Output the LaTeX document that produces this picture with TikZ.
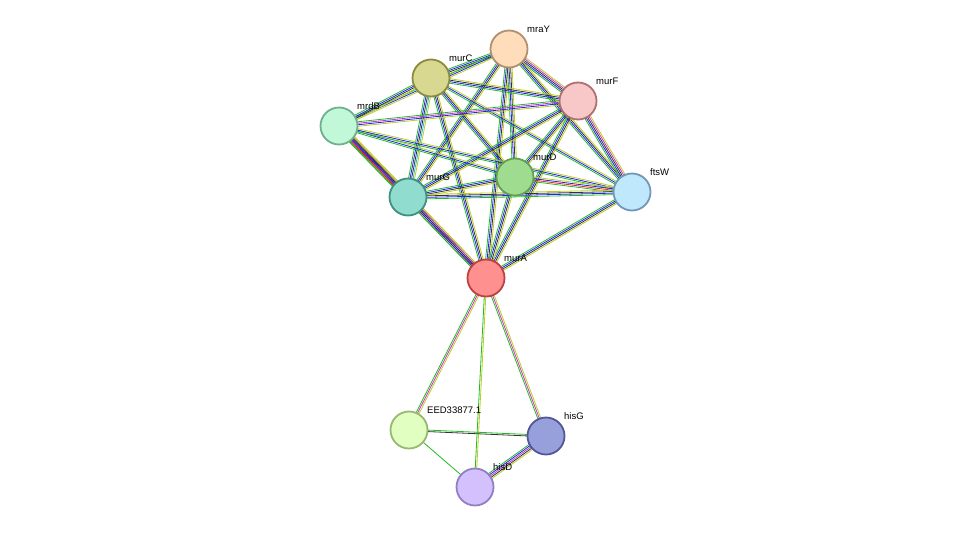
\documentclass[tikz,border=0pt]{standalone}
\usepackage{fontspec}
\setmainfont{Liberation Sans}
\usetikzlibrary{calc}
\definecolor{sg}{HTML}{22BB22}
\definecolor{sb}{HTML}{2222EE}
\definecolor{sy}{HTML}{BBCC22}
\definecolor{sk}{HTML}{333333}
\definecolor{sm}{HTML}{CC33CC}
\definecolor{sr}{HTML}{EE2222}
\definecolor{sc}{HTML}{22BBCC}
\newcommand\sedge[4]{\foreach \c [count=\i] in #4{\pgfmathsetmacro\o{(\i-(#3+1)/2)*1.5}\draw[\c,line width=0.8pt] ($(#1)!\o pt!90:(#2)$) -- ($(#2)!\o pt!-90:(#1)$);}}
\tikzset{p/.style={circle,minimum size=37pt,inner sep=0pt,line width=1.8pt},
lab/.style={font=\fontsize{9.5}{10}\selectfont,anchor=south west,inner sep=1pt}}
\begin{document}
\begin{tikzpicture}[x=1pt,y=-1pt]
\useasboundingbox (0,0) rectangle (976,533);
\coordinate (mraY) at (509,49);
\coordinate (murC) at (431,78);
\coordinate (murF) at (578,101);
\coordinate (mrdB) at (339,126);
\coordinate (murD) at (515,177);
\coordinate (murG) at (408,197);
\coordinate (ftsW) at (632,192);
\coordinate (murA) at (486,278);
\coordinate (EED) at (409,430);
\coordinate (hisG) at (546,436);
\coordinate (hisD) at (475,487);
\foreach \a/\b/\n/\cs in {
mraY/murC/4/{sg,sb,sk,sy}, mraY/murF/5/{sg,sb,sk,sm,sy}, mraY/mrdB/3/{sg,sb,sy},
mraY/murD/4/{sg,sb,sk,sy}, mraY/murG/4/{sg,sb,sk,sy}, mraY/ftsW/4/{sg,sb,sk,sy},
mraY/murA/4/{sg,sb,sk,sy},
murC/murF/4/{sg,sb,sk,sy}, murC/mrdB/4/{sg,sb,sk,sy}, murC/murD/4/{sg,sb,sk,sy},
murC/murG/5/{sg,sb,sk,sc,sy}, murC/ftsW/3/{sg,sb,sy}, murC/murA/4/{sg,sb,sk,sy},
murF/mrdB/4/{sg,sm,sb,sy}, murF/murD/4/{sg,sb,sk,sy}, murF/murG/4/{sg,sb,sk,sy},
murF/ftsW/5/{sg,sb,sk,sm,sy}, murF/murA/4/{sg,sb,sk,sy},
mrdB/murD/3/{sg,sb,sy}, mrdB/murG/6/{sg,sr,sb,sk,sm,sy}, mrdB/ftsW/3/{sg,sb,sy},
mrdB/murA/5/{sg,sr,sb,sk,sy},
murD/murG/4/{sg,sb,sk,sy}, murD/ftsW/4/{sg,sr,sb,sy}, murD/murA/4/{sg,sb,sk,sy},
murG/ftsW/4/{sg,sb,sk,sy}, murG/murA/5/{sg,sb,sk,sm,sy}, ftsW/murA/4/{sg,sb,sk,sy},
murA/EED/3/{sg,sm,sy}, murA/hisG/3/{sg,sm,sy}, murA/hisD/2/{sg,sy},
EED/hisG/2/{sk,sg}, EED/hisD/1/{sg}, hisG/hisD/5/{sg,sb,sm,sk,sy}}
{\sedge{\a}{\b}{\n}{\cs}}
\node[p,fill={rgb,255:red,255;green,221;blue,187},draw={rgb,255:red,176;green,144;blue,112}] at (mraY) {};
\node[p,fill={rgb,255:red,216;green,216;blue,144},draw={rgb,255:red,139;green,139;blue,64}] at (murC) {};
\node[p,fill={rgb,255:red,248;green,200;blue,200},draw={rgb,255:red,176;green,112;blue,112}] at (murF) {};
\node[p,fill={rgb,255:red,192;green,248;blue,216},draw={rgb,255:red,112;green,176;blue,144}] at (mrdB) {};
\node[p,fill={rgb,255:red,160;green,220;blue,144},draw={rgb,255:red,96;green,160;blue,80}] at (murD) {};
\node[p,fill={rgb,255:red,144;green,221;blue,208},draw={rgb,255:red,64;green,144;blue,128}] at (murG) {};
\node[p,fill={rgb,255:red,192;green,232;blue,252},draw={rgb,255:red,112;green,152;blue,184}] at (ftsW) {};
\node[p,fill={rgb,255:red,255;green,144;blue,144},draw={rgb,255:red,192;green,64;blue,64}] at (murA) {};
\node[p,fill={rgb,255:red,224;green,255;blue,192},draw={rgb,255:red,152;green,184;blue,112}] at (EED) {};
\node[p,fill={rgb,255:red,152;green,160;blue,220},draw={rgb,255:red,80;green,88;blue,152}] at (hisG) {};
\node[p,fill={rgb,255:red,212;green,192;blue,252},draw={rgb,255:red,144;green,128;blue,192}] at (hisD) {};
\foreach \n/\t in {mraY/mraY,murC/murC,murF/murF,mrdB/mrdB,murD/murD,murG/murG,ftsW/ftsW,murA/murA,EED/EED33877.1,hisG/hisG,hisD/hisD}
\node[lab] (l\n) at ($(\n)+(17,-15)$) {\t};
\end{tikzpicture}
\end{document}
